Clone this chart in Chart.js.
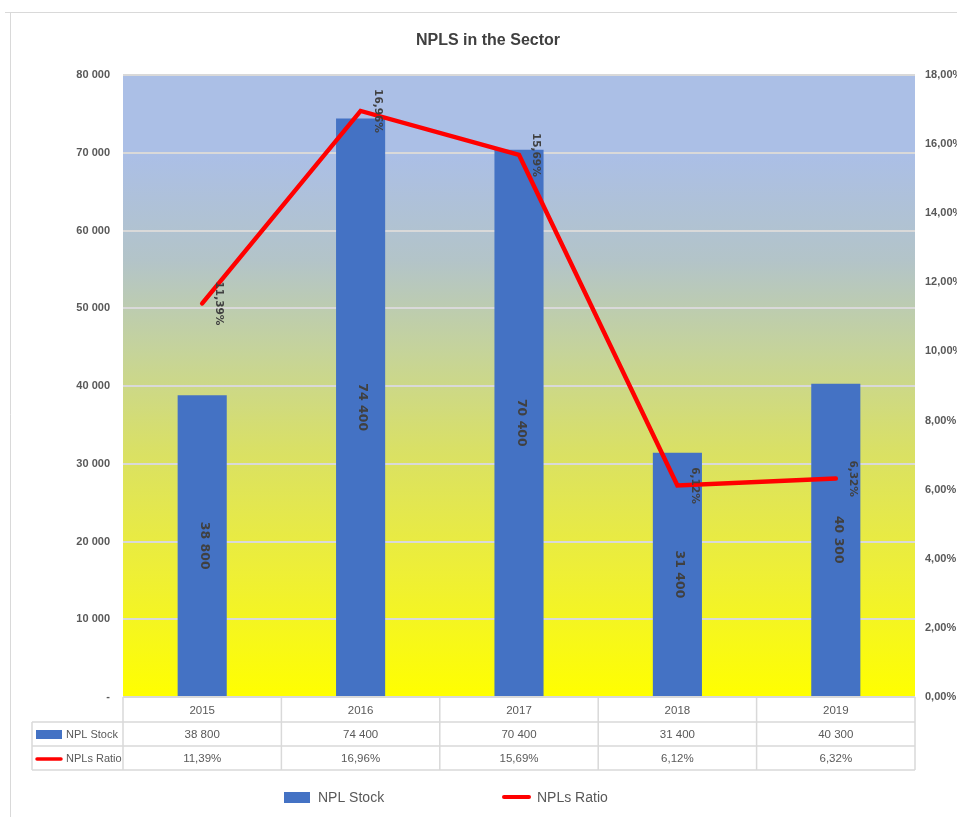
<!DOCTYPE html>
<html>
<head>
<meta charset="utf-8">
<script src="https://cdn.jsdelivr.net/npm/chart.js@4/dist/chart.umd.min.js"></script>
<style>
  html, body { margin: 0; padding: 0; background: #fff; }
  canvas { display: block; }
</style>
</head>
<body>
<canvas id="npl" width="957" height="817"></canvas>
<script>
// data
const years = ['2015', '2016', '2017', '2018', '2019'];
const nplStock = [38800, 74400, 70400, 31400, 40300];
const nplRatio = [11.39, 16.96, 15.69, 6.12, 6.32];
const seriesNames = ['NPL Stock', 'NPLs Ratio'];

const narrow = "'Liberation Sans', Arial, sans-serif";
const gray = '#595959';
const blue = '#4472c4';
const red = '#ff0000';
const lineGray = '#d9d9d9';

function fmtStock(v) {
  if (v === 0) return '-';
  return String(v).replace(/\B(?=(\d{3})+(?!\d))/g, ' ');
}
function fmtPct(v) {
  return v.toFixed(2).replace('.', ',') + '%';
}

// frame + gradient behind plot area
const background = {
  id: 'background',
  beforeDraw(chart) {
    const ctx = chart.ctx, a = chart.chartArea;
    ctx.save();
    ctx.fillStyle = '#fff';
    ctx.fillRect(0, 0, chart.width, chart.height);
    ctx.strokeStyle = lineGray;
    ctx.lineWidth = 1;
    ctx.beginPath();
    ctx.moveTo(5, 12.5); ctx.lineTo(chart.width, 12.5);
    ctx.moveTo(10.5, 12); ctx.lineTo(10.5, chart.height);
    ctx.stroke();
    const g = ctx.createLinearGradient(0, a.top, 0, a.bottom);
    g.addColorStop(0, '#abbfe6');
    g.addColorStop(0.13, '#abbfe6');
    g.addColorStop(0.3, '#b3c4c8');
    g.addColorStop(0.45, '#c6d498');
    g.addColorStop(0.6, '#d9e066');
    g.addColorStop(0.8, '#eeef36');
    g.addColorStop(1, '#ffff00');
    ctx.fillStyle = g;
    ctx.fillRect(a.left, a.top, a.right - a.left, a.bottom - a.top);
    ctx.restore();
  }
};

// title, data labels, data table, legend
const extras = {
  id: 'extras',
  afterDatasetsDraw(chart) {
    const ctx = chart.ctx;
    ctx.save();
    ctx.fillStyle = '#404040';
    ctx.textAlign = 'center';
    ctx.textBaseline = 'middle';
    // bar labels
    ctx.font = "bold 12.5px 'DejaVu Sans', sans-serif";
    chart.getDatasetMeta(0).data.forEach((el, i) => {
      ctx.save();
      ctx.translate(el.x + 2, (el.y + el.base) / 2);
      ctx.rotate(Math.PI / 2);
      ctx.fillText(fmtStock(nplStock[i]), 0, 0);
      ctx.restore();
    });
    // line labels
    ctx.font = "bold 10.5px 'DejaVu Sans', sans-serif";
    chart.getDatasetMeta(1).data.forEach((el, i) => {
      ctx.save();
      ctx.translate(el.x + 17, el.y);
      ctx.rotate(Math.PI / 2);
      ctx.fillText(fmtPct(nplRatio[i]), 0, 0);
      ctx.restore();
    });
    ctx.restore();
  },
  afterDraw(chart) {
    const ctx = chart.ctx, a = chart.chartArea, xs = chart.scales.x;
    ctx.save();
    // title
    ctx.fillStyle = '#404040';
    ctx.textAlign = 'center';
    ctx.textBaseline = 'middle';
    ctx.font = 'bold 16px ' + narrow;
    ctx.fillText('NPLS in the Sector', 488, 41);

    // data table
    const colW = (a.right - a.left) / years.length;
    const r0 = a.bottom, r1 = r0 + 25, r2 = r1 + 24, r3 = r2 + 24;
    const keyLeft = 32;
    ctx.strokeStyle = lineGray;
    ctx.lineWidth = 1.5;
    ctx.beginPath();
    [r1, r2, r3].forEach(y => { ctx.moveTo(keyLeft, y); ctx.lineTo(a.right, y); });
    ctx.moveTo(keyLeft, r1); ctx.lineTo(keyLeft, r3);
    for (let i = 0; i <= years.length; i++) {
      const x = a.left + i * colW;
      ctx.moveTo(x, r0); ctx.lineTo(x, r3);
    }
    ctx.stroke();

    ctx.fillStyle = gray;
    ctx.font = '11.5px ' + narrow;
    years.forEach((yr, i) => {
      const x = xs.getPixelForValue(i);
      ctx.fillText(yr, x, (r0 + r1) / 2 + 1);
      ctx.fillText(fmtStock(nplStock[i]), x, (r1 + r2) / 2 + 1);
      ctx.fillText(fmtPct(nplRatio[i]), x, (r2 + r3) / 2 + 1);
    });
    // row keys
    ctx.textAlign = 'left';
    ctx.fillStyle = blue;
    ctx.fillRect(36, (r1 + r2) / 2 - 4, 26, 9);
    ctx.strokeStyle = red;
    ctx.lineWidth = 3.5;
    ctx.lineCap = 'round';
    ctx.beginPath();
    ctx.moveTo(37, (r2 + r3) / 2 + 1); ctx.lineTo(61, (r2 + r3) / 2 + 1);
    ctx.stroke();
    ctx.fillStyle = gray;
    ctx.font = '11px ' + narrow;
    ctx.fillText(seriesNames[0], 66, (r1 + r2) / 2 + 1);
    ctx.fillText(seriesNames[1], 66, (r2 + r3) / 2 + 1);

    // legend
    const ly = 797;
    ctx.fillStyle = blue;
    ctx.fillRect(284, ly - 5, 26, 11);
    ctx.beginPath();
    ctx.lineWidth = 4;
    ctx.moveTo(504, ly); ctx.lineTo(529, ly);
    ctx.stroke();
    ctx.fillStyle = gray;
    ctx.font = '14px ' + narrow;
    ctx.fillText(seriesNames[0], 318, ly + 1);
    ctx.fillText(seriesNames[1], 537, ly + 1);
    ctx.restore();
  }
};

new Chart(document.getElementById('npl').getContext('2d'), {
  type: 'bar',
  data: {
    labels: years,
    datasets: [
      {
        type: 'bar',
        label: seriesNames[0],
        data: nplStock,
        backgroundColor: blue,
        borderWidth: 0,
        barPercentage: 0.31,
        categoryPercentage: 1,
        yAxisID: 'y',
        order: 1
      },
      {
        type: 'line',
        label: seriesNames[1],
        data: nplRatio,
        borderColor: red,
        backgroundColor: red,
        borderWidth: 4.5,
        borderCapStyle: 'round',
        pointRadius: 0,
        tension: 0,
        yAxisID: 'y1',
        order: 0
      }
    ]
  },
  options: {
    responsive: false,
    devicePixelRatio: 1,
    animation: false,
    layout: { padding: { top: 75, right: 0, bottom: 120, left: 0 } },
    plugins: {
      legend: { display: false },
      title: { display: false },
      tooltip: { enabled: false }
    },
    scales: {
      x: { display: false },
      y: {
        position: 'left',
        min: 0,
        max: 80000,
        afterFit(s) { s.width = 123; },
        ticks: {
          stepSize: 10000,
          padding: 13,
          color: gray,
          font: { family: narrow, size: 11, weight: 'bold' },
          callback: v => fmtStock(v)
        },
        grid: { color: lineGray, lineWidth: 2, drawTicks: false },
        border: { display: false }
      },
      y1: {
        position: 'right',
        min: 0,
        max: 18,
        afterFit(s) { s.width = 42; },
        ticks: {
          stepSize: 2,
          padding: 10,
          color: gray,
          font: { family: narrow, size: 11, weight: 'bold' },
          callback: v => fmtPct(v)
        },
        grid: { display: false, drawTicks: false },
        border: { display: false }
      }
    }
  },
  plugins: [background, extras]
});
</script>
</body>
</html>
